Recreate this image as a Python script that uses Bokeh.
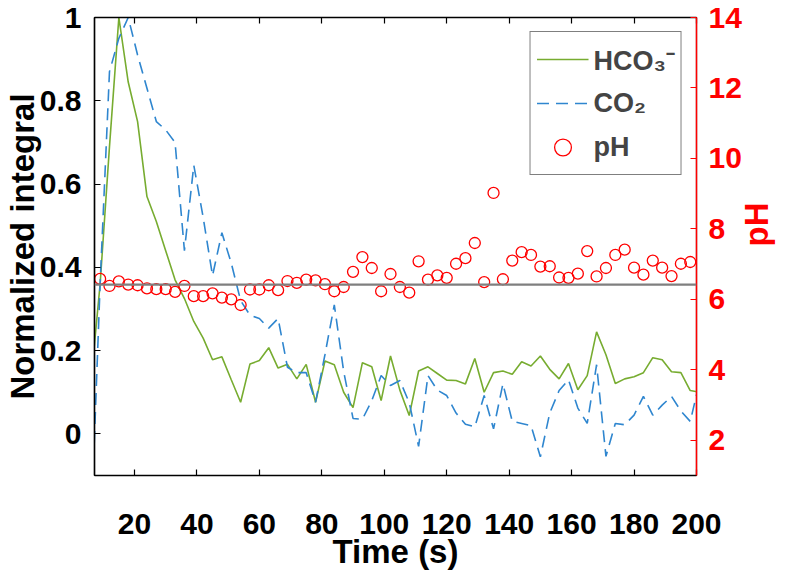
import math
from bokeh.plotting import figure
from bokeh.models import (Range1d, LinearAxis, FixedTicker, CustomJSTickFormatter,
                          Legend, LegendItem, Span, ColumnDataSource)
from bokeh.embed import file_html
from bokeh.resources import INLINE

# ---------------- data ----------------
time_lines = [6, 9, 12, 15, 18, 21, 24, 27, 30, 33, 36, 39, 42, 45, 48, 51, 54, 57, 60,
              63, 66, 69, 72, 75, 78, 81, 84, 87, 90, 93, 96, 99, 102, 105, 108, 111,
              114, 117, 120, 123, 126, 129, 132, 135, 138, 141, 144, 147, 150, 153, 156,
              159, 162, 165, 168, 171, 174, 177, 180, 183, 186, 189, 192, 195, 198, 201]

hco3 = [0.12, 0.36, 0.69, 1.00, 0.845, 0.75, 0.57, 0.51, 0.44, 0.37, 0.325, 0.27, 0.23,
        0.178, 0.185, 0.13, 0.076, 0.168, 0.176, 0.207, 0.158, 0.167, 0.132, 0.167,
        0.076, 0.175, 0.166, 0.10, 0.063, 0.171, 0.161, 0.08, 0.187, 0.105, 0.044,
        0.151, 0.161, 0.145, 0.129, 0.128, 0.12, 0.181, 0.10, 0.147, 0.151, 0.143,
        0.173, 0.163, 0.187, 0.155, 0.132, 0.169, 0.106, 0.14, 0.245, 0.19, 0.121,
        0.132, 0.137, 0.147, 0.183, 0.178, 0.149, 0.147, 0.104, 0.10]

co2 = [-0.25, 0.36, 0.87, 0.95, 1.00, 0.91, 0.83, 0.75, 0.73, 0.70, 0.44, 0.645, 0.52,
       0.38, 0.483, 0.41, 0.32, 0.285, 0.277, 0.254, 0.277, 0.16, 0.147, 0.147, 0.076,
       0.19, 0.31, 0.15, 0.037, 0.035, 0.08, 0.14, 0.116, 0.128, 0.075, -0.03, 0.14,
       0.105, 0.092, 0.05, 0.023, 0.017, 0.092, 0.012, 0.12, 0.03, 0.025, 0.02, -0.055,
       0.05, 0.104, 0.13, 0.062, 0.025, 0.166, -0.054, 0.025, 0.022, 0.045, 0.09,
       0.045, 0.069, 0.09, 0.055, 0.03, 0.125]

time_ph = [9, 12, 15, 18, 21, 24, 27, 30, 33, 36, 39, 42, 45, 48, 51, 54, 57, 60, 63,
           66, 69, 72, 75, 78, 81, 84, 87, 90, 93, 96, 99, 102, 105, 108, 111, 114, 117,
           120, 123, 126, 129, 132, 135, 138, 141, 144, 147, 150, 153, 156, 159, 162,
           165, 168, 171, 174, 177, 180, 183, 186, 189, 192, 195, 198]

ph = [6.58, 6.38, 6.51, 6.42, 6.40, 6.31, 6.29, 6.29, 6.21, 6.38, 6.09, 6.09, 6.17,
      6.05, 6.00, 5.84, 6.28, 6.28, 6.40, 6.26, 6.52, 6.47, 6.56, 6.54, 6.43, 6.23,
      6.35, 6.78, 7.20, 6.89, 6.23, 6.72, 6.35, 6.19, 7.08, 6.56, 6.68, 6.61, 7.01,
      7.17, 7.60, 6.49, 9.02, 6.57, 7.10, 7.34, 7.26, 6.93, 6.94, 6.62, 6.61, 6.73,
      7.37, 6.65, 6.89, 7.26, 7.41, 6.90, 6.70, 7.10, 6.90, 6.66, 7.01, 7.06]

ph_reference = 6.42

x_ticks = [20, 40, 60, 80, 100, 120, 140, 160, 180, 200]
y_ticks = [0, 0.2, 0.4, 0.6, 0.8, 1]
ph_ticks = [2, 4, 6, 8, 10, 12, 14]

# ---------------- styling ----------------
FONT = "Liberation Sans"
TICK_FS = "30px"
LABEL_FS = "33px"
LEGEND_FS = "27px"
GREEN = "#77AC30"
BLUE = "#2F86CF"
RED = "#FF0000"

p = figure(x_range=Range1d(7.2, 200), y_range=Range1d(-0.1, 1),
           frame_width=602, frame_height=458,
           min_border_left=90, min_border_right=90, min_border_top=17, min_border_bottom=96,
           output_backend="svg", toolbar_location=None,
           x_axis_location=None, y_axis_location=None)
p.extra_y_ranges = {"ph": Range1d(1, 14)}
p.grid.visible = False
p.outline_line_color = "black"
p.outline_line_width = 1.2
p.background_fill_color = "white"
p.border_fill_color = "white"

def style_axis(ax, color="black"):
    ax.axis_line_color = color
    ax.axis_line_width = 1.5
    ax.major_tick_line_color = color
    ax.major_tick_line_width = 1.2
    ax.major_tick_in = 6
    ax.major_tick_out = 0
    ax.minor_tick_line_color = None
    ax.major_label_text_font = FONT
    ax.major_label_text_font_style = "bold"
    ax.major_label_text_font_size = TICK_FS
    ax.major_label_text_color = color
    ax.axis_label_text_font = FONT
    ax.axis_label_text_font_style = "bold"
    ax.axis_label_text_font_size = LABEL_FS
    ax.axis_label_text_color = color

xaxis = LinearAxis(ticker=FixedTicker(ticks=x_ticks), axis_label="Time (s)")
style_axis(xaxis)
xaxis.major_label_standoff = 38
xaxis.axis_label_standoff = -4
p.add_layout(xaxis, "below")

topaxis = LinearAxis(ticker=FixedTicker(ticks=x_ticks),
                     formatter=CustomJSTickFormatter(code="return ''"))
style_axis(topaxis)
topaxis.major_label_text_font_size = "0px"
topaxis.major_label_standoff = 0
p.add_layout(topaxis, "above")

yaxis = LinearAxis(ticker=FixedTicker(ticks=y_ticks), axis_label="Normalized integral",
                   formatter=CustomJSTickFormatter(code="return String(Math.round(tick*10)/10)"))
style_axis(yaxis)
yaxis.major_label_standoff = 13
yaxis.axis_label_standoff = -4
p.add_layout(yaxis, "left")

phaxis = LinearAxis(y_range_name="ph", ticker=FixedTicker(ticks=ph_ticks), axis_label="pH")
style_axis(phaxis, RED)
phaxis.major_label_standoff = 12
phaxis.axis_label_standoff = 12
phaxis.axis_label_orientation = math.pi / 2
p.add_layout(phaxis, "right")

# reference pH line
p.add_layout(Span(location=ph_reference, dimension="width", y_range_name="ph",
                  line_color="#7F7F7F", line_width=2.2))

src_lines = ColumnDataSource(dict(t=time_lines, hco3=hco3, co2=co2))
src_ph = ColumnDataSource(dict(t=time_ph, ph=ph))

r_hco3 = p.line("t", "hco3", source=src_lines, line_color=GREEN, line_width=1.6)
r_co2 = p.line("t", "co2", source=src_lines, line_color=BLUE, line_width=1.6,
               line_dash="12 7")
r_ph = p.scatter("t", "ph", source=src_ph, y_range_name="ph", marker="circle", size=11,
                 fill_color=None, line_color=RED, line_width=1.3)

legend = Legend(items=[LegendItem(label="HCO\u2083\u207b", renderers=[r_hco3]),
                       LegendItem(label="CO\u2082", renderers=[r_co2]),
                       LegendItem(label="pH", renderers=[r_ph])],
                location="top_right")
legend.margin = 14
legend.border_line_color = "black"
legend.border_line_width = 1.2
legend.background_fill_alpha = 1
legend.label_text_font = FONT
legend.label_text_font_style = "bold"
legend.label_text_font_size = LEGEND_FS
legend.glyph_width = 52
legend.glyph_height = 42
legend.label_height = 42
legend.label_standoff = 5
legend.padding = 6
legend.spacing = 2
p.add_layout(legend, "center")

open("out.html", "w").write(file_html(p, INLINE))
